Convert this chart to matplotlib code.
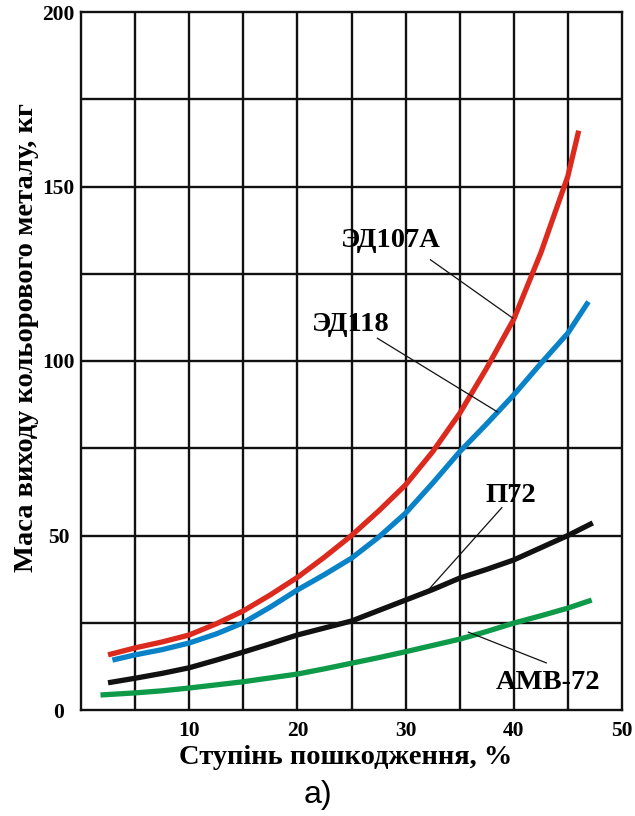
import matplotlib
matplotlib.use("Agg")
import matplotlib.pyplot as plt

# ---- data ----
x_red = [2.5, 5, 7.5, 10, 12.5, 15, 17.5, 20, 22.5, 25, 27.5, 30, 32.5, 35, 37.5, 40, 42.5, 45, 46]
y_red = [15.8, 17.8, 19.5, 21.5, 24.7, 28.4, 33, 38, 43.8, 50, 57, 64.5, 74, 85, 98, 112, 131, 153, 166]

x_blue = [2.9, 5, 7.5, 10, 12.5, 15, 17.5, 20, 22.5, 25, 27.5, 30, 32.5, 35, 37.5, 40, 42.5, 45, 46.9]
y_blue = [14.3, 15.8, 17.3, 19.2, 21.8, 25, 29.5, 34.4, 38.8, 43.5, 49.5, 56.4, 65, 74, 82, 90.3, 99.3, 108, 117]

x_black = [2.5, 5, 7.5, 10, 12.5, 15, 17.5, 20, 22.5, 25, 27.5, 30, 32.5, 35, 37.5, 40, 42.5, 45, 47.3]
y_black = [7.8, 9.1, 10.5, 12.1, 14.3, 16.6, 19, 21.5, 23.5, 25.5, 28.5, 31.5, 34.5, 37.8, 40.3, 43, 46.5, 50, 53.6]

x_green = [1.8, 5, 7.5, 10, 12.5, 15, 17.5, 20, 22.5, 25, 27.5, 30, 32.5, 35, 37.5, 40, 42.5, 45, 47.2]
y_green = [4.3, 4.9, 5.5, 6.3, 7.2, 8.1, 9.2, 10.3, 11.8, 13.4, 15, 16.7, 18.5, 20.3, 22.5, 24.9, 27, 29.2, 31.5]

series_names = ["ЭД107А", "ЭД118", "П72", "АМВ-72"]
x_ticks = [10, 20, 30, 40, 50]
y_ticks = [0, 50, 100, 150, 200]
x_label = "Ступінь пошкодження, %"
y_label = "Маса виходу кольорового металу, кг"
caption = "а)"

# label positions (text) and leader line ends (from, to) in data coords
label_pos = [(28.6, 134.5), (24.9, 110.5), (39.7, 61.5), (43.2, 8.0)]
leader_from = [(32.3, 129.0), (27.4, 106.5), (38.9, 58.0), (43.0, 13.5)]
leader_to = [(39.9, 112.3), (38.5, 85.4), (32.1, 34.4), (35.8, 22.3)]

colors = ["#DC2A1E", "#0A82C8", "#111111", "#0E9A48"]

fig = plt.figure(figsize=(6.35, 8.16), dpi=100)
ax = fig.add_axes([81 / 635, 106 / 816, 541 / 635, 698 / 816])

ax.set_xlim(0, 50)
ax.set_ylim(0, 200)

# grid
for gx in range(5, 50, 5):
    ax.axvline(gx, color="#111111", lw=1.7, zorder=1)
for gy in range(25, 200, 25):
    ax.axhline(gy, color="#111111", lw=1.7, zorder=1)
for s in ax.spines.values():
    s.set_linewidth(1.7)
    s.set_color("#111111")

serif = ["Liberation Serif", "DejaVu Serif"]

ax.set_xticks(x_ticks)
ax.set_yticks(y_ticks)
ax.set_xticklabels([str(v) for v in x_ticks], fontfamily=serif, fontweight="bold", fontsize=15.5)
ax.set_yticklabels([str(v) for v in y_ticks], fontfamily=serif, fontweight="bold", fontsize=15.5, ha="center")
ax.tick_params(axis="x", length=0, pad=8)
ax.tick_params(axis="y", length=0, pad=16)

for xs, ys, c in zip([x_red, x_blue, x_black, x_green], [y_red, y_blue, y_black, y_green], colors):
    ax.plot(xs, ys, color=c, lw=3.8, solid_capstyle="butt", solid_joinstyle="round", zorder=3)

for name, lp, lf, lt in zip(series_names, label_pos, leader_from, leader_to):
    ax.plot([lf[0], lt[0]], [lf[1], lt[1]], color="#111111", lw=0.9, zorder=4)
    ax.text(lp[0], lp[1], name, fontfamily=serif, fontweight="bold", fontsize=20.5,
            ha="center", va="center", zorder=5)

fig.text(346 / 635, 1 - 757 / 816, x_label, fontfamily=serif, fontweight="bold",
         fontsize=20.5, ha="center", va="center")
fig.text(27 / 635, 1 - 338 / 816, y_label, fontfamily=serif, fontweight="bold",
         fontsize=20.5, ha="center", va="center", rotation=90)
fig.text(318 / 635, 1 - 795 / 816, caption, fontfamily=["Liberation Sans", "DejaVu Sans"],
         fontsize=23, ha="center", va="center")

fig.savefig("out.png", dpi=100)
